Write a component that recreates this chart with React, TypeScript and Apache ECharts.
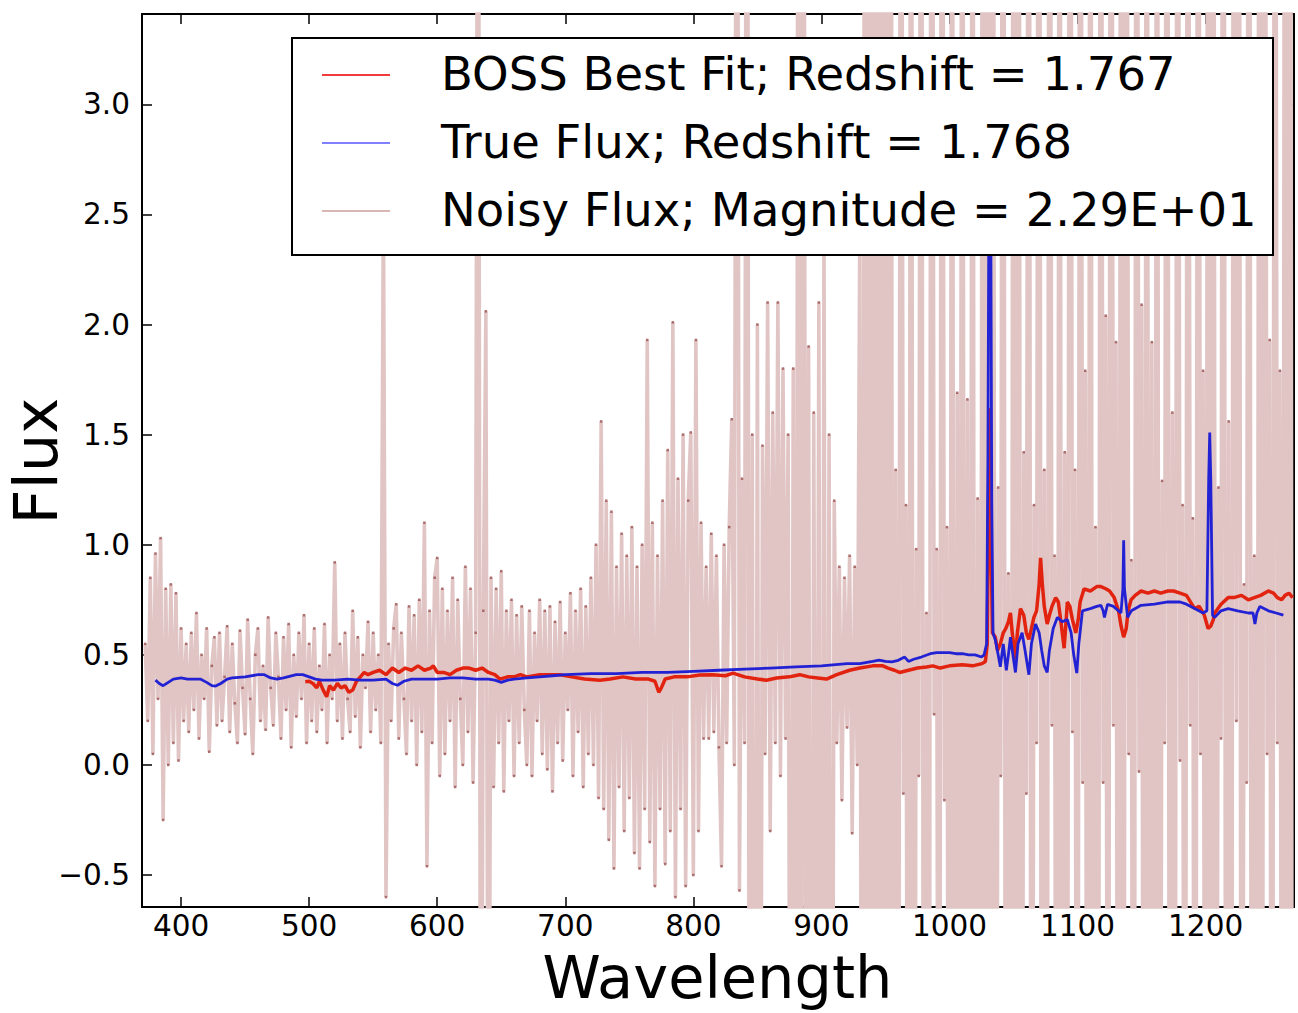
import React, { useEffect, useRef } from 'react';
import * as echarts from 'echarts';

const X_TICKS = [400, 500, 600, 700, 800, 900, 1000, 1100, 1200];
const Y_TICKS = [-0.5, 0, 0.5, 1, 1.5, 2, 2.5, 3];

const X_TITLE = 'Wavelength';
const Y_TITLE = 'Flux';
const LEGEND_LABELS = [
  'BOSS Best Fit; Redshift = 1.767',
  'True Flux; Redshift = 1.768',
  'Noisy Flux; Magnitude = 2.29E+01',
];

// Noisy flux, sampled every 2 nm from 372 nm (values far outside the axes are clipped)
const NOISE_START = 372;
const NOISE_STEP = 2;
const NOISE_FLUX = [
  0.55, 0.2, 0.85, 0.05, 0.96, 0.3, 1.03, -0.25, 0.8, 0.0,
  0.82, 0.1, 0.78, 0.02, 0.62, 0.2, 0.55, 0.15, 0.6, 0.25,
  0.69, 0.12, 0.5, 0.3, 0.62, 0.06, 0.45, 0.58, 0.18, 0.6,
  0.2, 0.4, 0.63, 0.15, 0.55, 0.28, 0.1, 0.61, 0.35, 0.14,
  0.66, 0.3, 0.05, 0.5, 0.62, 0.2, 0.45, 0.16, 0.67, 0.35,
  0.18, 0.6, 0.4, 0.12, 0.58, 0.25, 0.64, 0.08, 0.5, 0.22,
  0.6, 0.3, 0.68, 0.1, 0.55, 0.2, 0.62, 0.15, 0.45, 0.25,
  0.64, 0.1, 0.5, 0.3, 0.92, 0.2, 0.55, 0.12, 0.6, 0.3,
  0.15, 0.7, 0.22, 0.58, 0.08, 0.5, 0.35, 0.65, 0.15, 0.6,
  0.25, 0.5, 0.1, 2.6, -0.6, 0.55, 0.2, 0.62, 0.73, 0.12,
  0.6, 0.3, 0.05, 0.72, 0.2, 0.68, 0.0, 0.75, 0.15, 1.1,
  -0.46, 0.7, 0.1, 0.85, 0.94, -0.05, 0.8, 0.05, 0.7, 0.2,
  0.85, -0.1, 0.75, 0.3, 0.0, 0.9, 0.15, 0.8, -0.08, 0.6,
  6.0, -3.0, 0.7, 2.06, -2.5, 0.85, -0.1, 0.8, 0.1, 0.88,
  -0.12, 0.7, 0.2, 0.75, -0.05, 0.68, 0.1, 0.72, 0.25, 0.0,
  0.7, -0.05, 0.6, 0.2, 0.75, 0.05, 0.7, -0.02, 0.72, -0.12,
  0.65, 0.1, 0.74, 0.02, 0.6, 0.25, 0.78, -0.05, 0.7, 0.15,
  0.8, -0.1, 0.72, 0.05, 0.85, 0.0, 1.0, -0.15, 1.56, -0.2,
  1.2, -0.34, 1.15, -0.47, 0.9, -0.1, 1.05, -0.3, 0.95, -0.15,
  1.08, -0.4, 0.9, -0.47, 1.0, -0.2, 1.93, -0.35, 1.1, -0.55,
  0.95, -0.2, 1.2, -0.45, 1.43, -0.3, 2.01, -0.6, 1.3, -0.2,
  1.5, -0.55, 1.2, 1.51, -0.5, 1.93, -0.3, 1.1, 0.12, 0.9,
  0.12, 1.05, 0.15, 0.95, 0.08, -0.46, 1.0, 0.1, 1.08, 1.57,
  0.0, 7.0, -0.57, 1.3, 0.1, 7.5, -4.5, 1.5, -4.0, 2.0,
  -3.5, 1.45, 0.05, 2.1, -0.3, 1.6, 0.1, 2.1, -0.05, 1.8,
  0.12, 1.5, -3.5, 1.8, -4.0, 7.0, -4.5, 7.5, -3.0, 1.9,
  -4.0, 1.6, -2.5, 2.1, -4.2, 2.4, -3.0, 1.5, -3.5, 1.2,
  0.1, 0.9, -0.16, 0.85, 0.17, 0.95, -0.31, 0.9, 0.0, 2.5,
  -5, 8, -4.5, 7.5, -6, 8.5, -4, 8, -5.5, 7.8,
  -5, 8.4, -4.2, 1.34, -5.2, 8, -0.13, 1.18, -4.8, 8.3,
  -5.8, 0.98, -0.05, 7.4, -5, 0.69, -4.5, 8.6, 0.23, 0.98,
  -5.4, 8.1, -0.16, 1.08, -5, 7.8, -6.2, 1.69, -4, 8.4,
  -5.2, 1.66, -4.8, 8, -5.8, 1.21, -4.2, 7.5, -5, 8.7,
  -4.5, 7.8, -5.5, 1.26, -0.05, 8, -5, 0.87, -5.2, 8,
  -4.2, 8.3, -6, 1.42, -0.13, 7.4, -5, 1.18, 0.1, 8.5,
  -4.8, 1.34, -5.4, 8.1, 0.18, 0.95, -4.5, 7.8, -5.8, 1.42,
  -4, 8.4, 0.15, 1.34, -5.2, 8, -0.08, 1.79, -5, 8,
  -4.2, 1.08, -5.5, 7.5, -0.08, 2.04, -4.8, 8.6, 0.18, 1.92,
  -5, 8, -4.5, 7.4, 0.05, 0.93, -5.4, 8.3, -0.03, 2.09,
  -5, 7.8, -4, 1.92, -5.5, 8.1, -4.8, 1.29, 0.1, 8.4,
  -5.2, 1.6, -4.2, 8, 0.02, 1.18, -5, 7.5, 0.18, 1.12,
  -5.8, 8, 0.05, 1.79, -4.5, 8.5, -5.2, 7.8, -4, 1.26,
  0.12, 8.1, -5, 1.56, -5.5, 8, 0.2, 7.4, -4.8, 0.82,
  -0.08, 8.3, -5, 0.95, -4.2, 8, -5.4, 7.5, 0.05, 1.93,
  -5, 8, 0.1, 1.79, -4.5, 8.4, -5.2, 7.8, -4.8,
];

// True flux
const TRUE_NM = [
  380, 383, 386, 390, 394, 400, 405, 410, 415, 420, 424, 427, 431, 436, 440, 450, 460, 465, 470, 475,
  480, 490, 495, 500, 505, 510, 520, 530, 540, 550, 560, 565, 569, 574, 580, 590, 600, 610, 620, 630,
  640, 645, 650, 655, 660, 670, 680, 690, 700, 720, 740, 760, 780, 800, 820, 840, 860, 880, 900, 920,
  930, 940, 945, 950, 955, 960, 965, 968, 972, 978, 985, 990, 995, 1000, 1005, 1010, 1015, 1020, 1025, 1027,
  1029, 1030, 1031, 1032, 1033, 1034, 1035.8, 1038, 1039.7, 1042, 1044.4, 1046, 1047.6, 1049.5, 1051.5, 1053.5, 1056.7, 1059, 1062, 1064,
  1067.2, 1070, 1072, 1074, 1076.3, 1078, 1081, 1084.2, 1088, 1092, 1095, 1097, 1099.4, 1101, 1103.8, 1110, 1115, 1118.2, 1120, 1121,
  1123.4, 1128, 1133.9, 1135.4, 1136, 1136.6, 1139.1, 1142, 1149.6, 1160, 1170.5, 1180, 1185, 1191.4, 1198, 1201, 1202.4, 1203.2, 1204, 1205.4,
  1207.1, 1212, 1217.6, 1225, 1233.3, 1237, 1238.5, 1240, 1242.4, 1249, 1255, 1260.7,
];
const TRUE_FLUX = [
  0.385, 0.37, 0.36, 0.375, 0.39, 0.395, 0.39, 0.39, 0.39, 0.375, 0.36, 0.358, 0.37, 0.39, 0.395, 0.4, 0.41, 0.41, 0.395, 0.39,
  0.395, 0.41, 0.41, 0.4, 0.39, 0.385, 0.385, 0.39, 0.385, 0.385, 0.39, 0.37, 0.362, 0.38, 0.39, 0.39, 0.39, 0.395, 0.395, 0.39,
  0.39, 0.385, 0.375, 0.385, 0.39, 0.395, 0.4, 0.405, 0.41, 0.415, 0.415, 0.42, 0.42, 0.425, 0.43, 0.435, 0.44, 0.445, 0.45, 0.46,
  0.46, 0.47, 0.476, 0.47, 0.468, 0.475, 0.49, 0.47, 0.48, 0.49, 0.505, 0.51, 0.51, 0.51, 0.505, 0.505, 0.5, 0.5, 0.49, 0.5,
  0.55, 1.4, 2.9, 2.9, 1.2, 0.6, 0.567, 0.5, 0.446, 0.55, 0.43, 0.5, 0.58, 0.5, 0.42, 0.55, 0.6, 0.52, 0.41, 0.55,
  0.64, 0.6, 0.52, 0.45, 0.42, 0.52, 0.62, 0.67, 0.65, 0.66, 0.6, 0.5, 0.417, 0.55, 0.7, 0.71, 0.72, 0.725, 0.7, 0.67,
  0.73, 0.72, 0.69, 0.8, 1.02, 0.8, 0.67, 0.7, 0.725, 0.73, 0.74, 0.74, 0.73, 0.71, 0.69, 0.7, 1.3, 1.51, 1.3, 0.68,
  0.67, 0.7, 0.71, 0.7, 0.69, 0.69, 0.64, 0.69, 0.72, 0.7, 0.69, 0.68,
];

// BOSS best fit
const BOSS_NM = [
  497, 500, 503, 506, 508, 511, 513.7, 516, 519, 522, 525, 528, 531, 534, 537, 540, 543, 546, 550, 555,
  560, 565, 570, 575, 580, 585, 590, 595, 597, 600, 605, 610, 615, 620, 625, 630, 635, 640, 645, 649,
  655, 660, 665, 670, 680, 690, 696, 705, 715, 727, 735, 745, 755, 765, 770, 773, 775, 778, 785, 795,
  805, 815, 825, 831, 840, 850, 857, 865, 875, 883, 890, 897, 904, 912, 922, 930, 940, 948, 952, 957,
  961, 968, 975, 982, 987, 992.7, 1000, 1010, 1018, 1025.4, 1028, 1029.5, 1030.5, 1031.4, 1032.5, 1033.5, 1035.8, 1037.5, 1039.7, 1042,
  1044, 1046, 1047.6, 1049, 1051.5, 1053, 1055.4, 1058, 1060, 1062, 1064, 1065.9, 1068, 1070, 1071.1, 1072.5, 1074, 1076.3, 1078, 1080,
  1082.9, 1085, 1087, 1089.5, 1091, 1092, 1094, 1096, 1098.6, 1100.5, 1102, 1105.1, 1110, 1115, 1118.2, 1122, 1125, 1128.6, 1132, 1134,
  1136, 1138, 1139.5, 1141.8, 1145, 1149.6, 1155, 1160, 1165, 1170.5, 1175, 1180, 1185, 1191.4, 1195, 1199, 1201.9, 1204, 1206, 1207.1,
  1212, 1217.6, 1222, 1228, 1233.3, 1238, 1243, 1249, 1253, 1256, 1259.4, 1262, 1265, 1268,
];
const BOSS_FLUX = [
  0.378, 0.38, 0.37, 0.35, 0.38, 0.34, 0.31, 0.36, 0.34, 0.37, 0.35, 0.36, 0.33, 0.34, 0.38, 0.4, 0.42, 0.41, 0.42, 0.43,
  0.41, 0.44, 0.42, 0.44, 0.43, 0.45, 0.43, 0.44, 0.45, 0.42, 0.42, 0.41, 0.43, 0.44, 0.44, 0.43, 0.44, 0.42, 0.41, 0.39,
  0.4, 0.4, 0.41, 0.4, 0.41, 0.41, 0.41, 0.4, 0.39, 0.385, 0.39, 0.4, 0.39, 0.39, 0.38, 0.33, 0.35, 0.39, 0.4, 0.4,
  0.408, 0.41, 0.405, 0.417, 0.4, 0.39, 0.385, 0.395, 0.4, 0.41, 0.4, 0.395, 0.39, 0.41, 0.43, 0.44, 0.45, 0.45, 0.44, 0.43,
  0.42, 0.43, 0.44, 0.445, 0.45, 0.44, 0.45, 0.455, 0.45, 0.46, 0.47, 0.55, 1.2, 1.62, 1.0, 0.6, 0.58, 0.52, 0.55, 0.6,
  0.62, 0.65, 0.69, 0.6, 0.48, 0.6, 0.71, 0.68, 0.6, 0.57, 0.62, 0.67, 0.7, 0.82, 0.94, 0.82, 0.72, 0.64, 0.68, 0.72,
  0.76, 0.74, 0.65, 0.53, 0.65, 0.74, 0.72, 0.66, 0.6, 0.66, 0.74, 0.8, 0.79, 0.81, 0.81, 0.8, 0.79, 0.76, 0.7, 0.63,
  0.58, 0.62, 0.7, 0.75, 0.77, 0.79, 0.78, 0.79, 0.78, 0.79, 0.79, 0.78, 0.77, 0.71, 0.72, 0.68, 0.62, 0.63, 0.66, 0.69,
  0.73, 0.76, 0.76, 0.77, 0.75, 0.76, 0.77, 0.79, 0.78, 0.76, 0.75, 0.77, 0.78, 0.76,
];

const FONT = 'DejaVu Sans';

function fmtY(v: number): string {
  if (Math.abs(v) < 1e-9) return '0.0';
  return v < 0 ? '\u2212' + Math.abs(v).toFixed(1) : v.toFixed(1);
}

export default function App() {
  const ref = useRef<HTMLDivElement>(null);

  useEffect(() => {
    if (!ref.current) return;
    const chart = echarts.init(ref.current, null, { renderer: 'svg' });

    const noiseData = NOISE_FLUX.map((v, i) => [NOISE_START + i * NOISE_STEP, v]);
    const trueData = TRUE_NM.map((x, i) => [x, TRUE_FLUX[i]]);
    const bossData = BOSS_NM.map((x, i) => [x, BOSS_FLUX[i]]);

    const xMin = 369.5;
    const xMax = 1269;
    const yMin = -0.645;
    const yMax = 3.41;

    const axisLine = { show: true, onZero: false, lineStyle: { color: '#000', width: 2 } };
    const tickStyle = { color: '#000', width: 1.5 };

    const legendRows = [
      { color: '#f03c3c', y: 75 },
      { color: '#7f7fff', y: 143 },
      { color: '#d8b6b6', y: 211 },
    ];

    const legendElements: any[] = [
      {
        type: 'rect',
        shape: { x: 292, y: 38, width: 981, height: 217 },
        style: { fill: '#fff', stroke: '#000', lineWidth: 2 },
        z: 100,
      },
    ];
    legendRows.forEach((r, i) => {
      legendElements.push({
        type: 'line',
        shape: { x1: 322, y1: r.y, x2: 390, y2: r.y },
        style: { stroke: r.color, lineWidth: 2 },
        z: 101,
      });
      legendElements.push({
        type: 'text',
        x: 441,
        y: r.y - 1,
        style: {
          text: LEGEND_LABELS[i],
          fontSize: 46.5,
          fontFamily: FONT,
          fill: '#000',
          verticalAlign: 'middle',
        },
        z: 101,
      });
    });

    const titleElements: any[] = [
      {
        type: 'text',
        x: 717.5,
        y: 977,
        style: {
          text: X_TITLE,
          fontSize: 59,
          lineHeight: 54,
          fontFamily: FONT,
          fill: '#000',
          align: 'center',
          verticalAlign: 'middle',
        },
      },
      {
        type: 'text',
        x: 35,
        y: 461,
        rotation: Math.PI / 2,
        style: {
          text: Y_TITLE,
          fontSize: 61,
          lineHeight: 54,
          fontFamily: FONT,
          fill: '#000',
          align: 'center',
          verticalAlign: 'middle',
        },
      },
    ];

    const option: any = {
      animation: false,
      backgroundColor: '#fff',
      grid: { left: 142, right: 4, top: 14, bottom: 106, containLabel: false, outerBoundsMode: 'none' },
      xAxis: [
        {
          type: 'value',
          min: xMin,
          max: xMax,
          position: 'bottom',
          axisLine,
          axisTick: { show: true, inside: true, length: 10, customValues: X_TICKS, lineStyle: tickStyle },
          axisLabel: {
            show: true,
            customValues: X_TICKS,
            fontSize: 29.5,
            fontFamily: FONT,
            color: '#000',
            margin: 4,
            formatter: (v: number) => String(Math.round(v)),
          },
          splitLine: { show: false },
        },
        {
          type: 'value',
          min: xMin,
          max: xMax,
          position: 'top',
          axisLine,
          axisTick: { show: true, inside: true, length: 10, customValues: X_TICKS, lineStyle: tickStyle },
          axisLabel: { show: false },
          splitLine: { show: false },
        },
      ],
      yAxis: [
        {
          type: 'value',
          min: yMin,
          max: yMax,
          position: 'left',
          axisLine,
          axisTick: { show: true, inside: true, length: 10, customValues: Y_TICKS, lineStyle: tickStyle },
          axisLabel: {
            show: true,
            customValues: Y_TICKS,
            fontSize: 29.5,
            fontFamily: FONT,
            color: '#000',
            margin: 12,
            formatter: fmtY,
          },
          splitLine: { show: false },
        },
        {
          type: 'value',
          min: yMin,
          max: yMax,
          position: 'right',
          axisLine,
          axisTick: { show: true, inside: true, length: 10, customValues: Y_TICKS, lineStyle: tickStyle },
          axisLabel: { show: false },
          splitLine: { show: false },
        },
      ],
      series: [
        {
          name: LEGEND_LABELS[2],
          type: 'line',
          xAxisIndex: 0,
          yAxisIndex: 0,
          data: noiseData,
          clip: true,
          silent: true,
          showSymbol: true,
          showAllSymbol: true,
          symbol: 'rect',
          symbolSize: 2.5,
          itemStyle: { color: '#a05858', opacity: 0.85 },
          lineStyle: { color: '#e1c5c5', width: 3.6 },
          z: 1,
        },
        {
          name: LEGEND_LABELS[0],
          type: 'line',
          xAxisIndex: 0,
          yAxisIndex: 0,
          data: bossData,
          clip: true,
          silent: true,
          showSymbol: false,
          lineStyle: { color: '#e2230f', width: 3.5 },
          z: 2,
        },
        {
          name: LEGEND_LABELS[1],
          type: 'line',
          xAxisIndex: 0,
          yAxisIndex: 0,
          data: trueData,
          clip: true,
          silent: true,
          showSymbol: false,
          lineStyle: { color: '#2222d4', width: 2.8 },
          z: 3,
        },
      ],
      graphic: [
        { type: 'group', z: 100, children: legendElements },
        { type: 'group', z: 100, children: titleElements },
      ],
    };

    chart.setOption(option);
    return () => chart.dispose();
  }, []);

  return (
    <div
      ref={ref}
      style={{ position: 'fixed', left: 0, top: 0, width: 1298, height: 1013, background: '#fff' }}
    />
  );
}
